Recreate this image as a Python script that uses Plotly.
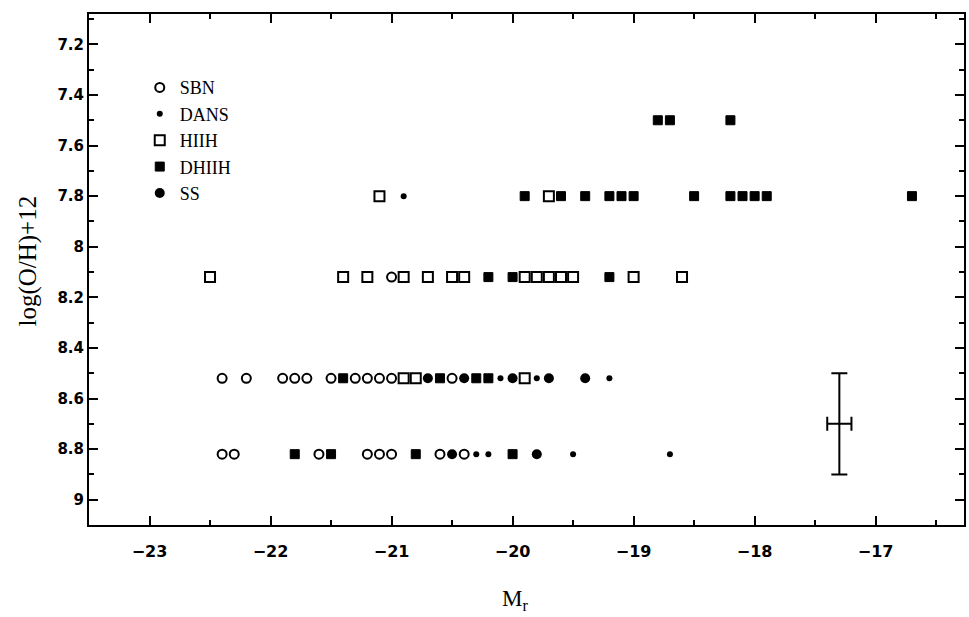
import plotly.graph_objects as go

# Absolute magnitude M_r and oxygen abundance for each galaxy class
sbn_mr = [-21.0,
          -22.4, -22.2, -21.9, -21.8, -21.7, -21.5, -21.3, -21.2, -21.1, -21.0, -20.5,
          -22.4, -22.3, -21.6, -21.2, -21.1, -21.0, -20.6, -20.4]
sbn_oh = [8.12,
          8.52, 8.52, 8.52, 8.52, 8.52, 8.52, 8.52, 8.52, 8.52, 8.52, 8.52,
          8.82, 8.82, 8.82, 8.82, 8.82, 8.82, 8.82, 8.82]

dans_mr = [-20.9, -20.1, -19.8, -19.2, -20.3, -20.2, -19.5, -18.7]
dans_oh = [7.8, 8.52, 8.52, 8.52, 8.82, 8.82, 8.82, 8.82]

hiih_mr = [-21.1, -19.7,
           -22.5, -21.4, -21.2, -20.9, -20.7, -20.5, -20.4, -19.9, -19.8, -19.7, -19.6, -19.5, -19.0, -18.6,
           -20.9, -20.8, -19.9]
hiih_oh = [7.8, 7.8,
           8.12, 8.12, 8.12, 8.12, 8.12, 8.12, 8.12, 8.12, 8.12, 8.12, 8.12, 8.12, 8.12, 8.12,
           8.52, 8.52, 8.52]

dhiih_mr = [-18.8, -18.7, -18.2,
            -19.9, -19.6, -19.4, -19.2, -19.1, -19.0, -18.5, -18.2, -18.1, -18.0, -17.9, -16.7,
            -20.2, -20.0, -19.2,
            -21.4, -20.6, -20.3, -20.2,
            -21.8, -21.5, -20.8, -20.0]
dhiih_oh = [7.5, 7.5, 7.5,
            7.8, 7.8, 7.8, 7.8, 7.8, 7.8, 7.8, 7.8, 7.8, 7.8, 7.8, 7.8,
            8.12, 8.12, 8.12,
            8.52, 8.52, 8.52, 8.52,
            8.82, 8.82, 8.82, 8.82]

ss_mr = [-20.7, -20.4, -20.0, -19.7, -19.4, -20.5, -19.8]
ss_oh = [8.52, 8.52, 8.52, 8.52, 8.52, 8.82, 8.82]

# Typical uncertainty
err_mr, err_oh = [-17.3], [8.7]
err_dx, err_dy = [0.1], [0.2]

x_ticks = [-23, -22, -21, -20, -19, -18, -17]
x_tick_text = ["\u221223", "\u221222", "\u221221", "\u221220", "\u221219", "\u221218", "\u221217"]
y_ticks = [7.2, 7.4, 7.6, 7.8, 8.0, 8.2, 8.4, 8.6, 8.8, 9.0]
y_tick_text = ["7.2", "7.4", "7.6", "7.8", "8", "8.2", "8.4", "8.6", "8.8", "9"]

BLACK = "#000000"
SERIF = "Liberation Serif"

fig = go.Figure()

fig.add_trace(go.Scatter(
    x=sbn_mr, y=sbn_oh, mode="markers", name="SBN",
    marker=dict(symbol="circle-open", size=9, color=BLACK, line=dict(width=2, color=BLACK)),
))
fig.add_trace(go.Scatter(
    x=dans_mr, y=dans_oh, mode="markers", name="DANS",
    marker=dict(symbol="circle", size=6, color=BLACK, line=dict(width=0)),
))
fig.add_trace(go.Scatter(
    x=hiih_mr, y=hiih_oh, mode="markers", name="HIIH",
    marker=dict(symbol="square-open", size=10, color=BLACK, line=dict(width=2, color=BLACK)),
))
fig.add_trace(go.Scatter(
    x=dhiih_mr, y=dhiih_oh, mode="markers", name="DHIIH",
    marker=dict(symbol="square", size=9, color=BLACK, line=dict(width=1, color=BLACK)),
))
fig.add_trace(go.Scatter(
    x=ss_mr, y=ss_oh, mode="markers", name="SS",
    marker=dict(symbol="circle", size=10, color=BLACK, line=dict(width=0)),
))

fig.add_trace(go.Scatter(
    x=err_mr, y=err_oh, mode="markers", showlegend=False,
    marker=dict(size=1, color="rgba(0,0,0,0)"),
    error_x=dict(type="data", array=err_dx, color=BLACK, thickness=2, width=7),
    error_y=dict(type="data", array=err_dy, color=BLACK, thickness=2, width=8),
    hoverinfo="skip",
))

axis_common = dict(
    showline=True, linecolor=BLACK, linewidth=2, mirror="ticks",
    ticks="inside", tickcolor=BLACK, tickwidth=2, ticklen=9,
    showgrid=False, zeroline=False,
)
tick_font = dict(family="DejaVu Sans", color=BLACK, weight="bold")

fig.update_xaxes(
    range=[-23.5, -16.27], tickvals=x_ticks, ticktext=x_tick_text,
    ticklabelstandoff=11, tickfont=dict(size=16, **tick_font),
    minor=dict(dtick=0.5, ticks="inside", ticklen=5, tickwidth=1.5, tickcolor=BLACK),
    **axis_common,
)
fig.update_yaxes(
    range=[9.1, 7.08], tickvals=y_ticks, ticktext=y_tick_text,
    tickfont=dict(size=15, **tick_font),
    minor=dict(dtick=0.1, ticks="inside", ticklen=5, tickwidth=1.5, tickcolor=BLACK),
    **axis_common,
)

# Axis titles
fig.add_annotation(
    text="M<sub>r</sub>", xref="paper", yref="paper", x=0.487, y=-0.147,
    xanchor="center", yanchor="middle", showarrow=False,
    font=dict(family=SERIF, size=23, color=BLACK),
)
fig.add_annotation(
    text="log(O/H)+12", xref="paper", yref="paper", x=-0.07, y=0.517,
    xanchor="center", yanchor="middle", showarrow=False, textangle=-90,
    font=dict(family=SERIF, size=25, color=BLACK),
)

fig.update_layout(
    width=969, height=617,
    margin=dict(l=89, r=3, t=14, b=92),
    paper_bgcolor="white", plot_bgcolor="white",
    showlegend=True,
    legend=dict(
        x=0.058, y=0.892, xanchor="left", yanchor="top",
        bgcolor="rgba(0,0,0,0)", borderwidth=0,
        font=dict(family=SERIF, size=18, color=BLACK),
        itemwidth=30, tracegroupgap=0,
    ),
)

fig.write_html("out.html")
